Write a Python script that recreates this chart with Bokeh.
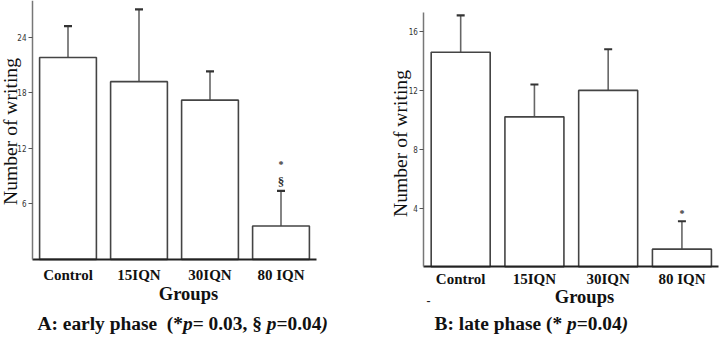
from bokeh.plotting import figure
from bokeh.layouts import row
from bokeh.models import Range1d, FixedTicker, Label, LinearAxis
from bokeh.core.properties import value
from bokeh.embed import file_html
from bokeh.resources import INLINE

# ---- data -------------------------------------------------------------
groups = ["Control", "15IQN", "30IQN", "80 IQN"]

early_mean = [21.8, 19.2, 17.2, 3.6]
early_err = [3.4, 7.8, 3.1, 3.8]
early_ticks = [6, 12, 18, 24]
early_marks = ["*", "§"]
early_mark_y = [10.2, 8.4]
early_mark_size = ["10px", "13px"]

late_mean = [14.6, 10.2, 12.0, 1.2]
late_err = [2.5, 2.2, 2.8, 1.9]
late_ticks = [4, 8, 12, 16]
late_marks = ["*"]
late_mark_y = [3.6]
late_mark_size = ["10px"]

early_caption = [("A: early phase", False), ("(*", False), ("p", True),
                 ("= 0.03, §", False), ("p", True), ("=0.04", False), (")", True)]
late_caption = [("B: late phase", False), ("(*", False), ("p", True),
                ("=0.04", False), (")", True)]

SERIF = "Liberation Serif"
NARROW = "Liberation Sans Narrow, DejaVu Sans Condensed, sans-serif"
W, H = 360, 353

# Times/Liberation Serif bold advance widths (1/1000 em) for caption layout
BOLD_W = {" ": 250, "(": 333, ")": 333, "*": 500, ",": 250, ".": 250, ":": 333,
          "=": 570, "A": 722, "B": 667, "§": 500, "a": 500, "e": 444, "h": 556,
          "l": 278, "p": 556, "r": 444, "s": 389, "t": 333, "y": 500}
for d in "0123456789":
    BOLD_W[d] = 500
BOLD_ITALIC_W = {"p": 500, ")": 333}


def screen_label(x, y_from_top, text, **kw):
    style = dict(text_font=SERIF, text_color="#111", text_align="center",
                 text_baseline="middle")
    style.update(kw)
    return Label(x=x, y=H - y_from_top, x_units="screen", y_units="screen",
                 text=text, **style)


def caption_labels(pieces, x0, y0, size, gaps):
    """Lay out a caption made of bold / bold-italic runs on one line."""
    labels = []
    x = x0
    for i, (txt, italic) in enumerate(pieces):
        labels.append(screen_label(x, y0, txt, text_font_size=f"{size}px",
                                   text_font_style="bold italic" if italic else "bold",
                                   text_align="left"))
        table = BOLD_ITALIC_W if italic else BOLD_W
        x += (sum(table[c] for c in txt) + gaps[i] * 250) * size / 1000
    return labels


def panel(means, errs, ticks, x_rng, y_rng, y_top, marks, mark_y, mark_size,
          label_standoff):
    p = figure(width=W, height=H, x_range=Range1d(*x_rng), y_range=Range1d(*y_rng),
               output_backend="svg", toolbar_location=None,
               x_axis_type=None, y_axis_type=None, min_border=0)
    p.outline_line_color = None
    p.background_fill_color = "white"
    p.border_fill_color = "white"

    xs = [i + 0.5 for i in range(len(groups))]
    upper = [m + e for m, e in zip(means, errs)]
    p.segment(x0=xs, y0=means, x1=xs, y1=upper, line_color="#666", line_width=1.6)
    p.scatter(x=xs, y=upper, marker="dash", size=8, line_color="#333", line_width=2.2)
    p.vbar(x=xs, top=means, width=0.8, bottom=0, fill_color="white",
           line_color="#444", line_width=1.6)
    p.text(x=[xs[-1]] * len(marks), y=mark_y, text=marks, text_font=value(SERIF),
           text_font_size=mark_size, text_font_style="bold", text_color="#333",
           text_align="center", text_baseline="middle")

    xaxis = LinearAxis(fixed_location=0, bounds=(0, len(groups)))
    xaxis.ticker = FixedTicker(ticks=xs)
    xaxis.major_label_overrides = {x: g for x, g in zip(xs, groups)}
    xaxis.axis_line_color = "#222"
    xaxis.axis_line_width = 2
    xaxis.major_tick_line_color = None
    xaxis.major_tick_out = 0
    xaxis.major_tick_in = 0
    xaxis.minor_tick_line_color = None
    xaxis.major_label_text_font = SERIF
    xaxis.major_label_text_font_style = "bold"
    xaxis.major_label_text_font_size = "15px"
    xaxis.major_label_text_color = "#111"
    xaxis.major_label_standoff = label_standoff
    p.add_layout(xaxis, "below")

    yaxis = LinearAxis(fixed_location=0, bounds=(0, y_top))
    yaxis.ticker = FixedTicker(ticks=ticks)
    yaxis.axis_line_color = "#777"
    yaxis.axis_line_width = 1.5
    yaxis.major_tick_in = 0
    yaxis.major_tick_out = 4
    yaxis.major_tick_line_color = "#555"
    yaxis.minor_tick_line_color = None
    yaxis.major_label_text_font = NARROW
    yaxis.major_label_text_font_size = "8px"
    yaxis.major_label_text_color = "#333"
    yaxis.major_label_standoff = 2
    p.add_layout(yaxis, "left")
    return p


# early phase: axis at 32 px, 71 px per group, 9.256 px per writhing
pa = panel(early_mean, early_err, early_ticks, (-32 / 71, 4 + 44 / 71),
           (-(H - 258.85) / 9.256, 258.85 / 9.256), 28, early_marks, early_mark_y,
           early_mark_size, 8)
pa.add_layout(screen_label(10, 131, "Number of writing", angle=90, angle_units="deg",
                           text_font_size="19.6px"))
pa.add_layout(screen_label(188, 293, "Groups", text_font_size="18.5px",
                           text_font_style="bold"))
for lab in caption_labels(early_caption, 37, 323, 19.4, [2, 0, 0, 1, 0, 0, 0]):
    pa.add_layout(lab)

# late phase: axis at 63.3 px, 73.75 px per group, 14.7 px per writhing
pb = panel(late_mean, late_err, late_ticks, (-63.3 / 73.75, 4 + 1.7 / 73.75),
           (-(H - 266.3) / 14.7, 266.3 / 14.7), 17.3, late_marks, late_mark_y,
           late_mark_size, 4)
pb.add_layout(screen_label(40, 143, "Number of writing", angle=90, angle_units="deg",
                           text_font_size="19.6px"))
pb.add_layout(screen_label(224, 296, "Groups", text_font_size="18.5px",
                           text_font_style="bold"))
pb.add_layout(screen_label(68, 300, "-", text_font_size="12px", text_font_style="bold",
                           text_color="#222"))
for lab in caption_labels(late_caption, 74, 323, 19.4, [1, 1, 0, 0, 0]):
    pb.add_layout(lab)

layout = row(pa, pb, spacing=0)
open("out.html", "w").write(file_html(layout, INLINE))
